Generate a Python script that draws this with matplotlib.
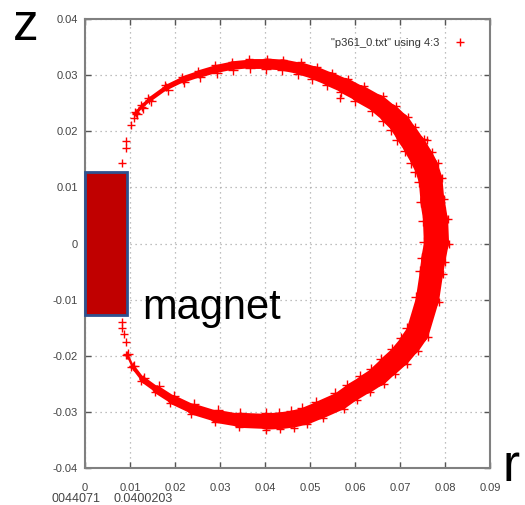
import numpy as np
import matplotlib
matplotlib.use("Agg")
import matplotlib.pyplot as plt
from matplotlib.patches import Rectangle
from matplotlib.collections import LineCollection

# Centre line of the particle ring (r, z), clockwise from the upper tip near the magnet
ring_r = [0.0114, 0.0126, 0.0143, 0.0181, 0.0217, 0.0254, 0.0292, 0.0328, 0.0366,
          0.0403, 0.0439, 0.0477, 0.0510, 0.0543, 0.0577, 0.0610, 0.0650, 0.0677,
          0.0699, 0.0714, 0.0732, 0.0748, 0.0759, 0.0768, 0.0772, 0.0779, 0.0781,
          0.0774, 0.0770, 0.0761, 0.0739, 0.0721, 0.0699, 0.0674, 0.0650, 0.0623,
          0.0594, 0.0566, 0.0521, 0.0488, 0.0461, 0.0432, 0.0403, 0.0343, 0.0292,
          0.0239, 0.0194, 0.0159, 0.0128, 0.0106, 0.0094]
ring_z = [0.0233, 0.0244, 0.0256, 0.0278, 0.0292, 0.0302, 0.0311, 0.0317, 0.0320,
          0.0320, 0.0318, 0.0312, 0.0304, 0.0293, 0.0281, 0.0267, 0.0249, 0.0231,
          0.0214, 0.0196, 0.0175, 0.0153, 0.0136, 0.0113, 0.0077, 0.0042, 0.0001,
          -0.0029, -0.0052, -0.0100, -0.0159, -0.0180, -0.0201, -0.0219, -0.0237, -0.0251,
          -0.0265, -0.0281, -0.0297, -0.0308, -0.0313, -0.0316, -0.0317, -0.0315, -0.0308,
          -0.0295, -0.0278, -0.0260, -0.0242, -0.0219, -0.0198]
# Spread of the ring across its centre line (in r units)
ring_spread = [0.0007, 0.0007, 0.0009, 0.0011, 0.0013, 0.0016, 0.0018, 0.0018, 0.0020,
               0.0024, 0.0024, 0.0027, 0.0029, 0.0031, 0.0033, 0.0038, 0.0040, 0.0044,
               0.0047, 0.0049, 0.0051, 0.0053, 0.0053, 0.0053, 0.0053, 0.0056, 0.0056,
               0.0053, 0.0053, 0.0051, 0.0051, 0.0049, 0.0047, 0.0047, 0.0044, 0.0042,
               0.0040, 0.0040, 0.0040, 0.0038, 0.0038, 0.0037, 0.0036, 0.0031, 0.0027,
               0.0022, 0.0020, 0.0016, 0.0011, 0.0007, 0.0004]
# Sparse particles at the two tips and a few stray ones
stray_r = [0.0083, 0.0090, 0.0092, 0.0103, 0.0108, 0.0083, 0.0083, 0.0086, 0.0090, 0.0761, 0.0566]
stray_z = [0.0143, 0.0171, 0.0182, 0.0212, 0.0223, -0.0139, -0.0150, -0.0162, -0.0176, 0.0185, 0.0260]

magnet_r = [0.0, 0.0093]
magnet_z = [-0.0127, 0.0127]

xticks = [0, 0.01, 0.02, 0.03, 0.04, 0.05, 0.06, 0.07, 0.08, 0.09]
yticks = [-0.04, -0.03, -0.02, -0.01, 0, 0.01, 0.02, 0.03, 0.04]

fnt = "Liberation Sans"
DPI = 100
fig = plt.figure(figsize=(5.25, 5.05), dpi=DPI)
ax = fig.add_axes([85 / 525, 37 / 505, 405 / 525, 449 / 505])
ax.set_xlim(0, 0.09)
ax.set_ylim(-0.04, 0.04)

red = "#ff0000"
fig.canvas.draw()
px_per_r = (ax.transData.transform([(0.01, 0)])[0][0]
            - ax.transData.transform([(0, 0)])[0][0]) / 0.01
spread = np.array(ring_spread)

# ring body: a stroke along the centre line whose width follows the spread
cr = np.array(ring_r)
cz = np.array(ring_z)
segs = [[(cr[i], cz[i]), (cr[i + 1], cz[i + 1])] for i in range(len(cr) - 1)]
seg_w = (spread[:-1] + spread[1:]) / 2 * px_per_r * 72 / DPI
ax.add_collection(LineCollection(segs, linewidths=seg_w, colors=red,
                                 capstyle="round", joinstyle="round", zorder=3))

# ragged edges of the ring
pts = ax.transData.transform(np.column_stack([cr, cz]))
tang = np.gradient(pts, axis=0)
tang /= np.linalg.norm(tang, axis=1)[:, None]
nrm = np.column_stack([tang[:, 1], -tang[:, 0]])
half = spread * px_per_r / 2
inv = ax.transData.inverted()
edge_o = inv.transform(pts + nrm * half[:, None])
edge_i = inv.transform(pts - nrm * half[:, None])
ax.plot(edge_o[:, 0], edge_o[:, 1], "+", color=red, ms=7, mew=1, zorder=3)
ax.plot(edge_i[:, 0], edge_i[:, 1], "+", color=red, ms=6, mew=1, zorder=3)
ax.plot(cr, cz, "+", color=red, ms=6, mew=1, zorder=3)
ax.plot(stray_r, stray_z, "+", color=red, ms=6, mew=1, zorder=3,
        label='"p361_0.txt" using 4:3')

ax.add_patch(Rectangle((magnet_r[0], magnet_z[0]), magnet_r[1] - magnet_r[0],
                       magnet_z[1] - magnet_z[0], facecolor="#c00000",
                       edgecolor="#2f528f", lw=2, zorder=5, clip_on=False))

ax.set_xticks(xticks)
ax.set_xticklabels([f"{v:g}" for v in xticks], family=fnt)
ax.set_yticks(yticks)
ax.set_yticklabels([f"{v:g}" for v in yticks], family=fnt)
ax.tick_params(direction="in", length=4, width=1, color="#555555", labelsize=8,
               labelcolor="#444444", top=True, right=True)
ax.tick_params(axis="x", pad=11)
ax.tick_params(axis="y", pad=5)
ax.grid(True, linestyle=(0, (1, 3)), color="#aaaaaa", lw=0.9)
for s in ax.spines.values():
    s.set_color("#808080")
    s.set_linewidth(1.5)

ax.legend(loc="upper right", frameon=False, prop={"family": fnt, "size": 8},
          handletextpad=0.9, markerfirst=False, borderaxespad=1.3,
          labelcolor="#333333")

fig.text(13 / 525, 1 - 40 / 505, "z", fontsize=37, family=fnt, color="black")
fig.text(503 / 525, 1 - 481 / 505, "r", fontsize=37, family=fnt, color="black")
ax.text(0.0128, -0.0135, "magnet", fontsize=30, family=fnt, color="black",
        zorder=6, va="baseline")
fig.text(52 / 525, 1 - 493 / 505, "0044071", fontsize=9, family=fnt, color="#444444", va="top")
fig.text(113 / 525, 1 - 493 / 505, "0.0400203", fontsize=9, family=fnt, color="#444444", va="top")

fig.savefig("out.png", dpi=DPI)
